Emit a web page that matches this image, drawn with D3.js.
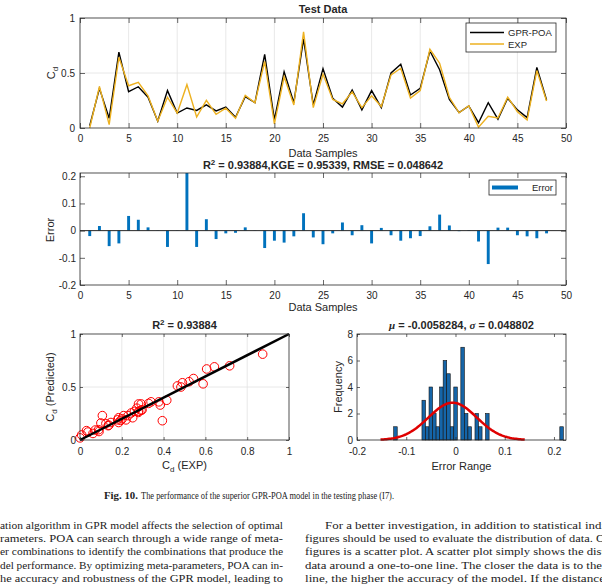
<!DOCTYPE html>
<html><head><meta charset="utf-8">
<script src="https://cdn.jsdelivr.net/npm/d3@7/dist/d3.min.js"></script>
<style>
body{margin:0;background:#fff}
svg{display:block}
</style>
</head><body>
<svg id="c" width="602" height="586"></svg>
<script>
// ---------------- DATA ----------------
const samples = [1,2,3,4,5,6,7,8,9,10,11,12,13,14,15,16,17,18,19,20,21,22,23,24,25,26,27,28,29,30,31,32,33,34,35,36,37,38,39,40,41,42,43,44,45,46,47,48];
const gprPoa = [0.02,0.36,0.088,0.69,0.33,0.375,0.28,0.062,0.34,0.135,0.182,0.16,0.21,0.155,0.19,0.097,0.285,0.23,0.67,0.075,0.51,0.23,0.81,0.21,0.54,0.27,0.19,0.345,0.165,0.34,0.185,0.50,0.58,0.30,0.36,0.70,0.53,0.26,0.14,0.20,0.048,0.23,0.08,0.27,0.165,0.094,0.55,0.255];
const expData = [0.00,0.377,0.031,0.643,0.384,0.415,0.292,0.062,0.28,0.135,0.394,0.10,0.252,0.124,0.18,0.089,0.297,0.23,0.606,0.038,0.466,0.209,0.874,0.185,0.49,0.26,0.22,0.328,0.185,0.293,0.195,0.483,0.543,0.272,0.34,0.716,0.589,0.279,0.138,0.202,0.008,0.107,0.091,0.281,0.148,0.073,0.522,0.245];
const errors = [-0.02,0.017,-0.057,-0.047,0.054,0.04,0.012,0.001,-0.06,0.001,0.212,-0.06,0.042,-0.031,-0.01,-0.008,0.012,-0.001,-0.064,-0.037,-0.044,-0.021,0.064,-0.025,-0.05,-0.01,0.03,-0.017,0.02,-0.047,0.01,-0.017,-0.037,-0.028,-0.02,0.016,0.059,0.019,-0.002,0.002,-0.04,-0.123,0.011,0.011,-0.017,-0.021,-0.028,-0.01];
const histLo = -0.1255, histHi = 0.219;
const histCounts = [1,0,0,0,0,0,0,0,3,1,4,2,1,4,6,5,1,4,0,7,2,1,0,2,1,0,2,0,0,0,0,0,0,0,0,0,0,0,0,0,0,0,0,0,0,0,0,1];
const fitMu = -0.0058284, fitSigma = 0.048802;
const identityLine = [[0,0],[1,1]];

const xTicksSeries = [0,5,10,15,20,25,30,35,40,45,50];
const yTicksTop = [0,0.5,1];
const yTicksErr = [-0.2,-0.1,0,0.1,0.2];
const xTicksScatter = [0,0.2,0.4,0.6,0.8,1];
const yTicksScatter = [0,0.5,1];
const xTicksHist = [-0.2,-0.1,0,0.1,0.2];
const yTicksHist = [0,2,4,6,8];

// ---------------- STYLE / HELPERS ----------------
const svg = d3.select('#c');
const ink = '#262626';
const gridC = '#e2e2e2';
const FONT = '"Liberation Sans", Arial, Helvetica, sans-serif';
const SERIF = '"Liberation Serif", "DejaVu Serif", serif';
const fmt = d => String(Math.round(d * 1000) / 1000);

function drawGrid(g, x, y, xt, yt) {
  const [xa, xb] = x.range(), [yb, ya] = y.range();
  g.append('g').selectAll('line').data(xt.filter(v => x(v) > xa + 0.5 && x(v) < xb - 0.5)).join('line')
    .attr('x1', d => x(d)).attr('x2', d => x(d)).attr('y1', ya).attr('y2', yb)
    .attr('stroke', gridC).attr('stroke-width', 0.8);
  g.append('g').selectAll('line').data(yt.filter(v => y(v) < yb - 0.5 && y(v) > ya + 0.5)).join('line')
    .attr('y1', d => y(d)).attr('y2', d => y(d)).attr('x1', xa).attr('x2', xb)
    .attr('stroke', gridC).attr('stroke-width', 0.8);
}

function drawFrame(g, x, y, o) {
  const [xa, xb] = x.range(), [yb, ya] = y.range();
  const t = o.tick || 4;
  const style = sel => {
    sel.select('.domain').remove();
    sel.selectAll('line').attr('stroke', ink).attr('stroke-width', 0.7);
    sel.selectAll('text').attr('fill', ink).attr('font-size', 10).attr('font-family', FONT);
    sel.attr('font-family', FONT);
  };
  g.append('g').attr('transform', `translate(0,${yb})`)
    .call(d3.axisBottom(x).tickValues(o.xTicks).tickFormat(fmt).tickSize(-t).tickPadding(o.xPad || 7)).call(style);
  g.append('g').attr('transform', `translate(0,${ya})`)
    .call(d3.axisTop(x).tickValues(o.xTicks).tickFormat('').tickSize(-t)).call(style);
  g.append('g').attr('transform', `translate(${xa},0)`)
    .call(d3.axisLeft(y).tickValues(o.yTicks).tickFormat(fmt).tickSize(-t).tickPadding(o.yPad || 4)).call(style);
  g.append('g').attr('transform', `translate(${xb},0)`)
    .call(d3.axisRight(y).tickValues(o.yTicks).tickFormat('').tickSize(-t)).call(style);
  g.append('rect').attr('x', xa).attr('y', ya).attr('width', xb - xa).attr('height', yb - ya)
    .attr('fill', 'none').attr('stroke', ink).attr('stroke-width', 0.8);
}

function label(txt, x, y, opts = {}) {
  const t = svg.append('text').attr('x', x).attr('y', y)
    .attr('font-family', opts.family || FONT).attr('font-size', opts.size || 11)
    .attr('fill', opts.fill || ink).attr('text-anchor', opts.anchor || 'middle')
    .attr('font-weight', opts.bold ? 'bold' : 'normal');
  if (opts.rotate) t.attr('transform', `rotate(-90,${x},${y})`);
  return t;
}
function cdLabel(t, suffix) {
  t.append('tspan').text('C');
  t.append('tspan').text('d').attr('font-size', 8).attr('dy', 3);
  if (suffix) t.append('tspan').text(' ' + suffix).attr('dy', -3);
}

// ---------------- PANEL 1: Test Data ----------------
{
  const x = d3.scaleLinear().domain([0, 50]).range([80, 566]);
  const y = d3.scaleLinear().domain([0, 1]).range([128, 18]);
  const g = svg.append('g');
  drawGrid(g, x, y, xTicksSeries, yTicksTop);
  const line = d3.line().x((d, i) => x(samples[i])).y(d => y(d));
  g.append('path').datum(gprPoa).attr('d', line).attr('fill', 'none').attr('stroke', '#000').attr('stroke-width', 1.4);
  g.append('path').datum(expData).attr('d', line).attr('fill', 'none').attr('stroke', '#EDB120').attr('stroke-width', 1.4);
  drawFrame(g, x, y, { xTicks: xTicksSeries, yTicks: yTicksTop, tick: 5, xPad: 7, yPad: 5 });
  g.append('rect').attr('x', 466).attr('y', 23).attr('width', 90).attr('height', 29).attr('fill', '#fff').attr('stroke', ink).attr('stroke-width', 0.8);
  g.append('line').attr('x1', 470).attr('x2', 504).attr('y1', 32.5).attr('y2', 32.5).attr('stroke', '#000').attr('stroke-width', 1.4);
  g.append('line').attr('x1', 470).attr('x2', 504).attr('y1', 44).attr('y2', 44).attr('stroke', '#EDB120').attr('stroke-width', 1.4);
  label('', 508, 36, { anchor: 'start', size: 9.5 }).text('GPR-POA');
  label('', 508, 47.5, { anchor: 'start', size: 9.5 }).text('EXP');
  label('', 323, 13, { bold: true }).text('Test Data');
  label('', 323, 157).text('Data Samples');
  cdLabel(label('', 55, 73, { rotate: true }));
}

// ---------------- PANEL 2: Error bars ----------------
{
  const x = d3.scaleLinear().domain([0, 50]).range([80, 566]);
  const y = d3.scaleLinear().domain([-0.2, 0.212]).range([285, 173]);
  const g = svg.append('g');
  const bw = x(0.3) - x(0);
  g.append('g').selectAll('rect').data(errors).join('rect')
    .attr('x', (d, i) => x(samples[i]) - bw / 2).attr('width', bw)
    .attr('y', d => y(Math.max(0, d))).attr('height', d => Math.abs(y(d) - y(0)))
    .attr('fill', '#0072BD');
  g.append('line').attr('x1', x(0)).attr('x2', x(50)).attr('y1', y(0)).attr('y2', y(0)).attr('stroke', ink).attr('stroke-width', 1);
  drawFrame(g, x, y, { xTicks: xTicksSeries, yTicks: yTicksErr, tick: 5, xPad: 7, yPad: 4 });
  g.append('rect').attr('x', 489).attr('y', 180).attr('width', 67).attr('height', 15).attr('fill', '#fff').attr('stroke', ink).attr('stroke-width', 0.8);
  g.append('line').attr('x1', 492).attr('x2', 518).attr('y1', 187.5).attr('y2', 187.5).attr('stroke', '#0072BD').attr('stroke-width', 4);
  label('', 553, 191, { anchor: 'end', size: 9.5 }).text('Error');
  const tt = label('', 323, 169, { bold: true });
  tt.append('tspan').text('R');
  tt.append('tspan').text('2').attr('font-size', 8).attr('dy', -4);
  tt.append('tspan').text(' = 0.93884,KGE = 0.95339, RMSE = 0.048642').attr('dy', 4);
  label('', 323, 311).text('Data Samples');
  label('', 54, 230, { rotate: true }).text('Error');
}

// ---------------- PANEL 3: Scatter ----------------
{
  const x = d3.scaleLinear().domain([0, 1]).range([80, 289]);
  const y = d3.scaleLinear().domain([0, 1]).range([440, 334]);
  const g = svg.append('g');
  drawGrid(g, x, y, xTicksScatter, yTicksScatter);
  g.append('g').selectAll('circle').data(expData).join('circle')
    .attr('cx', d => x(d)).attr('cy', (d, i) => y(gprPoa[i])).attr('r', 4.3)
    .attr('fill', 'none').attr('stroke', '#ff0000').attr('stroke-width', 1);
  g.append('path').datum(identityLine).attr('d', d3.line().x(d => x(d[0])).y(d => y(d[1])))
    .attr('stroke', '#000').attr('stroke-width', 2.5).attr('fill', 'none');
  drawFrame(g, x, y, { xTicks: xTicksScatter, yTicks: yTicksScatter, tick: 3, xPad: 8, yPad: 4 });
  const tt = label('', 184.5, 329, { bold: true });
  tt.append('tspan').text('R');
  tt.append('tspan').text('2').attr('font-size', 8).attr('dy', -4);
  tt.append('tspan').text(' = 0.93884').attr('dy', 4);
  cdLabel(label('', 184.5, 469), '(EXP)');
  cdLabel(label('', 54, 387, { rotate: true }), '(Predicted)');
}

// ---------------- PANEL 4: Histogram ----------------
{
  const x = d3.scaleLinear().domain([-0.2, 0.2244]).range([357, 566]);
  const y = d3.scaleLinear().domain([0, 8]).range([440, 334]);
  const g = svg.append('g');
  const n = histCounts.length;
  const w = (histHi - histLo) / n;
  const bins = histCounts.map((c, i) => ({ c, x0: histLo + i * w, x1: histLo + (i + 1) * w })).filter(b => b.c > 0);
  g.append('g').selectAll('rect').data(bins).join('rect')
    .attr('x', b => x(b.x0)).attr('width', b => x(b.x1) - x(b.x0))
    .attr('y', b => y(b.c)).attr('height', b => y(0) - y(b.c))
    .attr('fill', '#1565a8').attr('stroke', '#111').attr('stroke-width', 0.6);
  const total = d3.sum(histCounts);
  const xs = d3.range(0, 101).map(k => fitMu - 3 * fitSigma + k * (6 * fitSigma / 100));
  const pdf = v => total * w * Math.exp(-0.5 * ((v - fitMu) / fitSigma) ** 2) / (fitSigma * Math.sqrt(2 * Math.PI));
  g.append('path').datum(xs).attr('d', d3.line().x(v => x(v)).y(v => y(pdf(v))))
    .attr('fill', 'none').attr('stroke', '#e00000').attr('stroke-width', 2.5);
  drawFrame(g, x, y, { xTicks: xTicksHist, yTicks: yTicksHist, tick: 3, xPad: 8, yPad: 4 });
  const tt = label('', 461.5, 329, { bold: true });
  tt.append('tspan').text('μ').attr('font-style', 'italic').attr('font-family', SERIF);
  tt.append('tspan').text(' = -0.0058284, ');
  tt.append('tspan').text('σ').attr('font-style', 'italic').attr('font-family', SERIF);
  tt.append('tspan').text(' = 0.048802');
  label('', 461.5, 470).text('Error Range');
  label('', 342, 387, { rotate: true }).text('Frequency');
}

// ---------------- CAPTION & BODY TEXT ----------------
{
  svg.append('text').attr('x', 104).attr('y', 498.5).attr('font-family', SERIF).attr('font-size', 10.5)
    .attr('font-weight', 'bold').attr('fill', '#222')
    .attr('textLength', 34).attr('lengthAdjust', 'spacingAndGlyphs').text('Fig. 10.');
  svg.append('text').attr('x', 141).attr('y', 498.5).attr('font-family', SERIF).attr('font-size', 10.5)
    .attr('fill', '#222')
    .attr('textLength', 253).attr('lengthAdjust', 'spacingAndGlyphs')
    .text('The performance of the superior GPR-POA model in the testing phase (I7).');
  const leftLines = [
    'ation algorithm in GPR model affects the selection of optimal',
    'rameters. POA can search through a wide range of meta-',
    'er combinations to identify the combinations that produce the',
    'del performance. By optimizing meta-parameters, POA can in-',
    'he accuracy and robustness of the GPR model, leading to'
  ];
  const rightLines = [
    'For a better investigation, in addition to statistical indi',
    'figures should be used to evaluate the distribution of data. O',
    'figures is a scatter plot. A scatter plot simply shows the dist',
    'data around a one-to-one line. The closer the data is to the',
    'line, the higher the accuracy of the model. If the distance'
  ];
  const base = [528.5, 542, 555.3, 568.7, 582];
  leftLines.forEach((s, i) => {
    svg.append('text').attr('x', 0).attr('y', base[i]).attr('font-family', SERIF).attr('font-size', 10.5).attr('fill', '#222')
      .attr('textLength', 283).attr('lengthAdjust', 'spacingAndGlyphs').text(s);
  });
  const rStart = [325, 305, 305, 305, 305];
  const rLen = [280, 300, 300, 297, 300];
  rightLines.forEach((s, i) => {
    svg.append('text').attr('x', rStart[i]).attr('y', base[i]).attr('font-family', SERIF).attr('font-size', 10.5).attr('fill', '#222')
      .attr('textLength', rLen[i]).attr('lengthAdjust', 'spacingAndGlyphs').text(s);
  });
}
</script>
</body></html>
